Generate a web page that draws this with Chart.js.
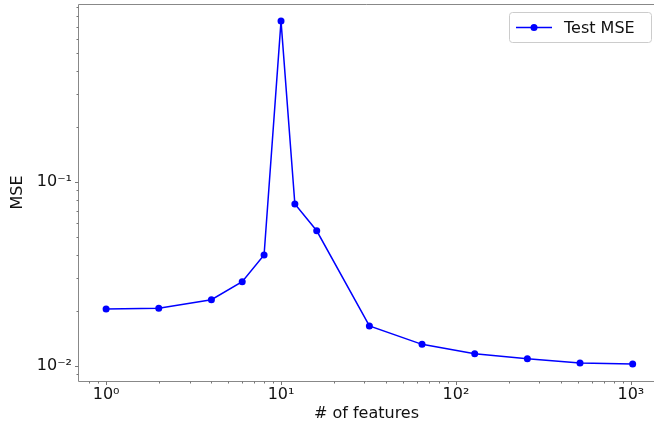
<!DOCTYPE html>
<html lang="en">
  <head>
    <meta charset="utf-8" />
    <title>Test MSE vs number of features</title>
    <style>
      html,
      body {
        margin: 0;
        padding: 0;
        background: #fff;
        overflow: hidden;
      }
      .chart-wrapper {
        width: 654px;
        height: 424px;
      }
    </style>
  </head>
  <body>
    <div class="chart-wrapper">
      <canvas id="mse-chart" width="654" height="424"></canvas>
    </div>

    <script src="https://cdn.jsdelivr.net/npm/chart.js@4.4.1/dist/chart.umd.min.js"></script>
    <script>
      // data
      const features = [1, 2, 4, 6, 8, 10, 12, 16, 32, 64, 128, 256, 512, 1024];
      const testMse = [0.0204, 0.0206, 0.0229, 0.0287, 0.0401, 0.75, 0.0759, 0.0543, 0.0165, 0.0131, 0.01164, 0.01093, 0.01037, 0.01025];

      const xTickValues = [1, 10, 100, 1000];
      const xTickLabels = ["10⁰", "10¹", "10²", "10³"];
      const yTickValues = [0.01, 0.1];
      const yTickLabels = ["10⁻²", "10⁻¹"];

      // visible axis range (the right spine is cut off in the picture)
      const xLim = [0.707, 1356];
      const yLim = [0.00828, 0.929];

      const seriesLabel = "Test MSE";
      const xTitle = "# of features";
      const yTitle = "MSE";

      const spineColor = "#888888";
      const tickColor = "#777777";
      const textColor = "#111111";
      const fontFamily = "'DejaVu Sans', sans-serif";

      function minorValues(min, max) {
        const out = [];
        for (let d = Math.floor(Math.log10(min)); d <= Math.ceil(Math.log10(max)); d++) {
          for (let k = 2; k <= 9; k++) {
            const v = k * Math.pow(10, d);
            if (v >= min && v <= max) out.push(v);
          }
        }
        return out;
      }

      // spines, tick marks and the legend box
      const decorations = {
        id: "decorations",
        afterDraw(chart) {
          const ctx = chart.ctx;
          const area = chart.chartArea;
          const xs = chart.scales.x;
          const ys = chart.scales.y;
          const left = Math.round(area.left) - 0.5;
          const bottom = Math.round(area.bottom) + 0.5;
          const top = Math.round(area.top) + 0.5;
          const right = area.right;

          ctx.save();
          ctx.strokeStyle = spineColor;
          ctx.lineWidth = 1;
          ctx.beginPath();
          ctx.moveTo(right, top);
          ctx.lineTo(left, top);
          ctx.lineTo(left, bottom);
          ctx.lineTo(right, bottom);
          ctx.stroke();

          // tick marks
          ctx.strokeStyle = tickColor;
          ctx.beginPath();
          xTickValues.forEach((v) => {
            const px = Math.round(xs.getPixelForValue(v)) + 0.5;
            ctx.moveTo(px, bottom);
            ctx.lineTo(px, bottom + 3.5);
          });
          minorValues(xLim[0], xLim[1]).forEach((v) => {
            const px = Math.round(xs.getPixelForValue(v)) + 0.5;
            ctx.moveTo(px, bottom);
            ctx.lineTo(px, bottom + 2);
          });
          yTickValues.forEach((v) => {
            const py = Math.round(ys.getPixelForValue(v)) + 0.5;
            ctx.moveTo(left, py);
            ctx.lineTo(left - 3.5, py);
          });
          minorValues(yLim[0], yLim[1]).forEach((v) => {
            const py = Math.round(ys.getPixelForValue(v)) + 0.5;
            ctx.moveTo(left, py);
            ctx.lineTo(left - 2, py);
          });
          ctx.stroke();

          // legend, upper right
          const bx = 509.5,
            by = 12.5,
            bw = 142,
            bh = 30,
            r = 3;
          ctx.fillStyle = "rgba(255,255,255,0.8)";
          ctx.strokeStyle = "#cccccc";
          ctx.beginPath();
          ctx.moveTo(bx + r, by);
          ctx.lineTo(bx + bw - r, by);
          ctx.arcTo(bx + bw, by, bx + bw, by + r, r);
          ctx.lineTo(bx + bw, by + bh - r);
          ctx.arcTo(bx + bw, by + bh, bx + bw - r, by + bh, r);
          ctx.lineTo(bx + r, by + bh);
          ctx.arcTo(bx, by + bh, bx, by + bh - r, r);
          ctx.lineTo(bx, by + r);
          ctx.arcTo(bx, by, bx + r, by, r);
          ctx.closePath();
          ctx.fill();
          ctx.stroke();

          const ly = by + bh / 2;
          ctx.strokeStyle = "blue";
          ctx.lineWidth = 1.5;
          ctx.beginPath();
          ctx.moveTo(516, ly);
          ctx.lineTo(552, ly);
          ctx.stroke();
          ctx.fillStyle = "blue";
          ctx.beginPath();
          ctx.arc(534, ly, 3.5, 0, Math.PI * 2);
          ctx.fill();

          ctx.fillStyle = textColor;
          ctx.font = "16px " + fontFamily;
          ctx.textAlign = "left";
          ctx.textBaseline = "middle";
          ctx.fillText(seriesLabel, 564, ly + 1);
          ctx.restore();
        },
      };

      const context = document.getElementById("mse-chart").getContext("2d");
      const myChart = new Chart(context, {
        type: "line",
        data: {
          datasets: [
            {
              label: seriesLabel,
              data: features.map((f, i) => ({ x: f, y: testMse[i] })),
              borderColor: "blue",
              backgroundColor: "blue",
              borderWidth: 1.5,
              pointRadius: 3.5,
              pointBorderWidth: 0,
              pointBackgroundColor: "blue",
              tension: 0,
              clip: false,
            },
          ],
        },
        options: {
          responsive: false,
          animation: false,
          layout: { autoPadding: false, padding: { top: 4, right: 0, left: 0, bottom: 0 } },
          plugins: {
            legend: { display: false },
            tooltip: { enabled: false },
          },
          scales: {
            x: {
              type: "logarithmic",
              min: xLim[0],
              max: xLim[1],
              grid: { display: false, drawTicks: false },
              border: { display: false },
              afterBuildTicks: (scale) => {
                scale.ticks = xTickValues.map((v) => ({ value: v }));
              },
              afterFit: (scale) => {
                scale.height = 43;
                scale.paddingLeft = 0;
                scale.paddingRight = 0;
              },
              ticks: {
                autoSkip: false,
                maxRotation: 0,
                padding: 4,
                color: textColor,
                font: { family: fontFamily, size: 16 },
                callback: (value) => xTickLabels[xTickValues.indexOf(value)] || "",
              },
              title: {
                display: true,
                text: xTitle,
                color: textColor,
                font: { family: fontFamily, size: 16 },
                padding: { top: 0, bottom: 0.5 },
              },
            },
            y: {
              type: "logarithmic",
              min: yLim[0],
              max: yLim[1],
              grid: { display: false, drawTicks: false },
              border: { display: false },
              afterBuildTicks: (scale) => {
                scale.ticks = yTickValues.map((v) => ({ value: v }));
              },
              afterFit: (scale) => {
                scale.width = 79;
                scale.paddingTop = 0;
                scale.paddingBottom = 0;
              },
              ticks: {
                autoSkip: false,
                padding: 7,
                color: textColor,
                font: { family: fontFamily, size: 16 },
                callback: (value) => yTickLabels[yTickValues.indexOf(value)] || "",
              },
              title: {
                display: true,
                text: yTitle,
                color: textColor,
                font: { family: fontFamily, size: 16 },
                padding: { top: 8.4, bottom: 0 },
              },
            },
          },
        },
        plugins: [decorations],
      });
    </script>
  </body>
</html>
